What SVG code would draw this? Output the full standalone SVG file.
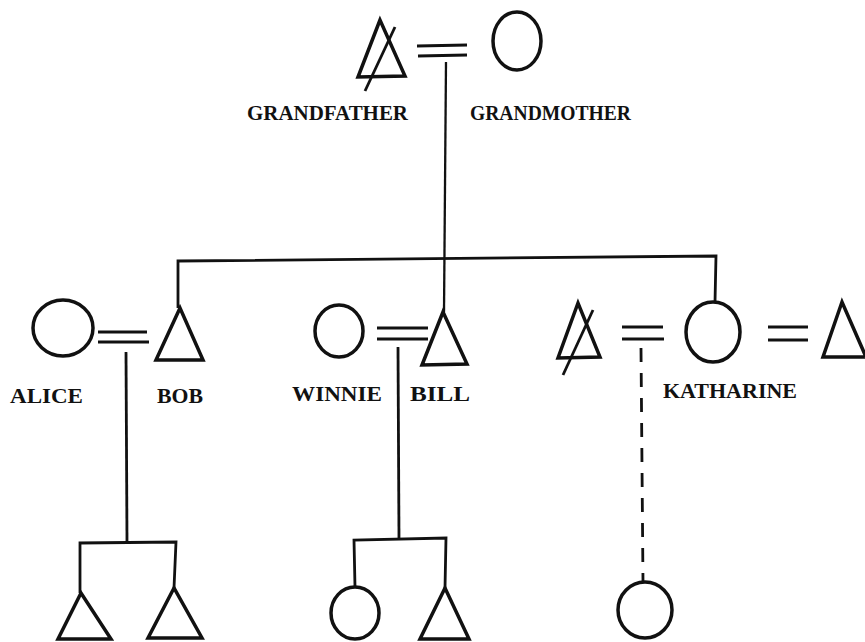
<svg xmlns="http://www.w3.org/2000/svg" width="865" height="642" viewBox="0 0 865 642">
<style>
.s{fill:none;stroke:#111;stroke-width:3.5;stroke-linejoin:miter;stroke-linecap:butt}
.l{fill:none;stroke:#111;stroke-width:2.8;stroke-linecap:butt}
.d{fill:none;stroke:#111;stroke-width:2.8;stroke-dasharray:14 11}
.t{font-family:"Liberation Serif","DejaVu Serif",serif;font-weight:bold;font-size:21px;fill:#111}
</style>
<rect width="865" height="642" fill="#fff"/>
<g id="connectors">
  <path class="l" d="M417 46 L467 45 M418 56 L467 55"/>
  <path class="l" d="M98 332 L147 332 M98 342 L149 342"/>
  <path class="l" d="M377 328 L428 328 M377 339 L428 339"/>
  <path class="l" d="M622 327 L663 327 M622 339 L664 339"/>
  <path class="l" d="M768 327 L808 327 M768 340 L808 340"/>
  <path class="l" d="M446 62 L444 312" style="stroke-width:2.3"/>
  <path class="l" d="M178 308 L178 261 L716 256 L715 302"/>
  <path class="l" d="M126 352 L127 542"/>
  <path class="l" d="M80 593 L80 543 L176 542 L174 588"/>
  <path class="l" d="M398 347 L399 539"/>
  <path class="l" d="M355 587 L354 540 L446 538 L445 588"/>
  <path class="d" d="M641 348 L643 582"/>
</g>
<g id="grandfather">
  <polygon class="s" points="380,20 358,77 405,76"/>
  <path class="l" d="M395 27 L365 91"/>
</g>
<g id="grandmother">
  <ellipse class="s" cx="517" cy="41" rx="24" ry="29"/>
</g>
<g id="alice"><ellipse class="s" cx="63" cy="328" rx="30" ry="28"/></g>
<g id="bob"><polygon class="s" points="180,308 156,360 203,360"/></g>
<g id="winnie"><ellipse class="s" cx="339" cy="331" rx="24" ry="26"/></g>
<g id="bill"><polygon class="s" points="443,312 422,365 467,364"/></g>
<g id="katharine-husband1">
  <polygon class="s" points="578,303 558,358 600,357"/>
  <path class="l" d="M593 310 L563 375"/>
</g>
<g id="katharine"><ellipse class="s" cx="713" cy="332" rx="27" ry="30"/></g>
<g id="katharine-husband2"><polygon class="s" points="842,302 823,357 866,357"/></g>
<g id="ab-child1"><polygon class="s" points="81,593 58,639 111,639"/></g>
<g id="ab-child2"><polygon class="s" points="174,588 148,638 202,638"/></g>
<g id="wb-child1"><ellipse class="s" cx="355" cy="613" rx="24" ry="26"/></g>
<g id="wb-child2"><polygon class="s" points="445,588 420,639 469,639"/></g>
<g id="k-child"><ellipse class="s" cx="645" cy="610" rx="27" ry="28"/></g>
<g id="labels">
  <text class="t" x="247" y="120" textLength="161" lengthAdjust="spacingAndGlyphs">GRANDFATHER</text>
  <text class="t" x="470" y="120" textLength="161" lengthAdjust="spacingAndGlyphs">GRANDMOTHER</text>
  <text class="t" x="10" y="403" textLength="73" lengthAdjust="spacingAndGlyphs">ALICE</text>
  <text class="t" x="157" y="403" textLength="46" lengthAdjust="spacingAndGlyphs">BOB</text>
  <text class="t" x="292" y="401" textLength="90" lengthAdjust="spacingAndGlyphs">WINNIE</text>
  <text class="t" x="410" y="401" textLength="60" lengthAdjust="spacingAndGlyphs">BILL</text>
  <text class="t" x="663" y="398" textLength="134" lengthAdjust="spacingAndGlyphs">KATHARINE</text>
</g>
</svg>
